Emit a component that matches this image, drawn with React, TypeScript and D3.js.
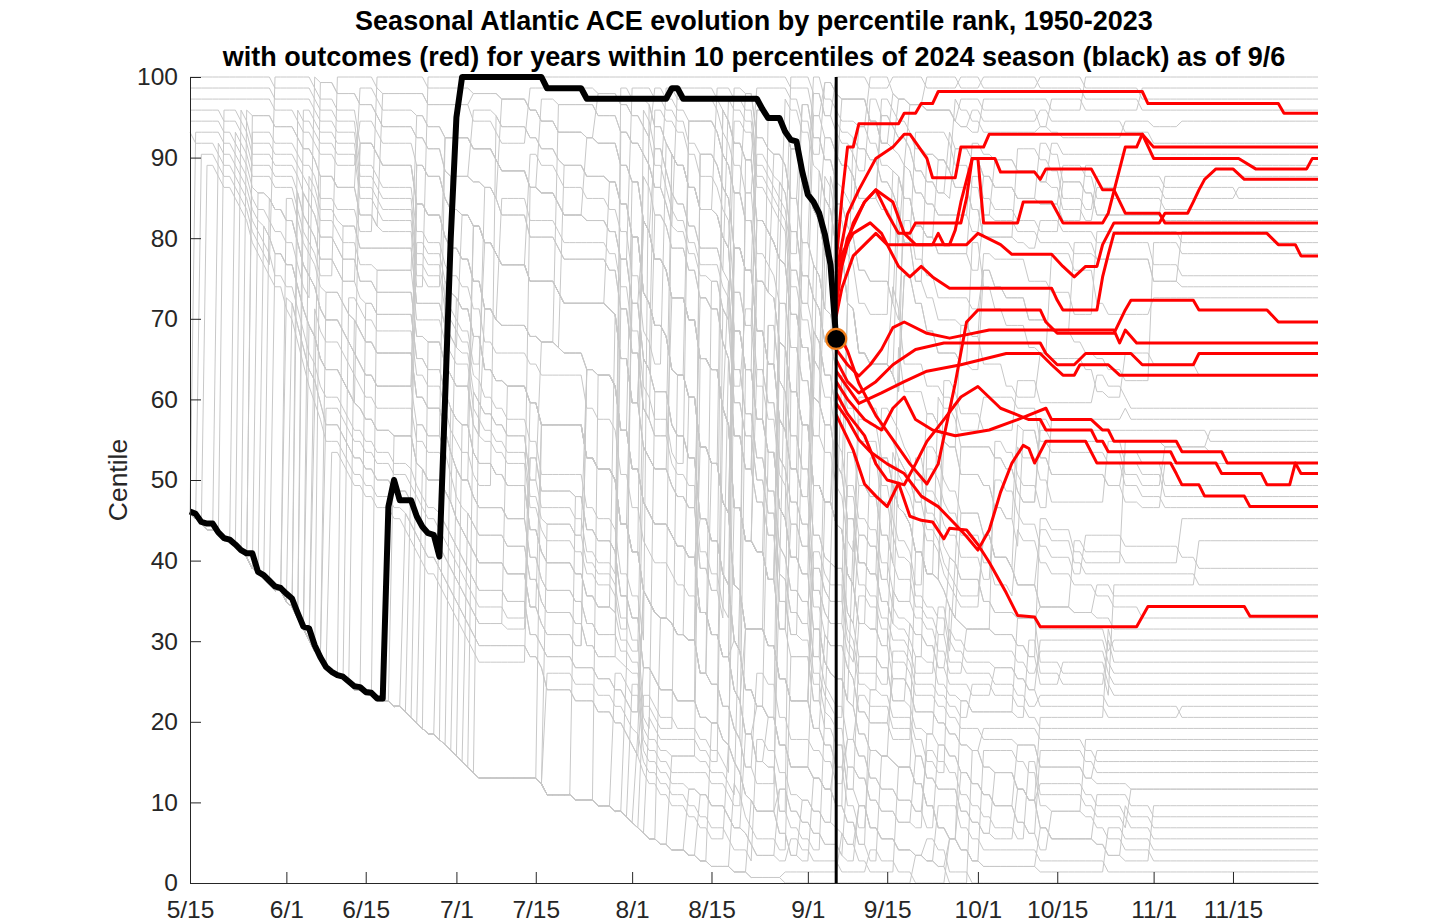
import React, { useEffect, useRef } from 'react';
import * as d3 from 'd3';

const YEAR = 2024;
const SEASON_START = '5/15';
const SEASON_END = '11/30';
const AS_OF = '9/6';
const AS_OF_CENTILE = 67.5;
const WINDOW = 10;

const X_TICKS = ['5/15', '6/1', '6/15', '7/1', '7/15', '8/1', '8/15', '9/1', '9/15', '10/1', '10/15', '11/1', '11/15'];
const Y_TICKS = [0, 10, 20, 30, 40, 50, 60, 70, 80, 90, 100];

const YEARS = d3.range(1950, 2024);

// cumulative ACE per season, flat pairs [day since 5/15, ACE, ...]; zero before the first pair
const SEASON_ACE: number[][] = [
  [45, 3, 80, 18, 95, 45, 110, 90, 122, 130, 135, 165, 150, 190, 165, 205, 175, 211],
  [0, 1.5, 30, 4, 66, 10, 98, 35, 112, 60, 126, 85, 140, 105, 160, 120, 178, 126],
  [0, 2.8, 52, 5, 90, 14, 108, 30, 120, 48, 135, 60, 150, 66, 163, 69],
  [14, 1.2, 40, 5, 85, 12, 104, 35, 118, 58, 130, 75, 146, 90, 172, 99],
  [24, 0.8, 60, 3, 88, 10, 112, 22, 128, 55, 142, 82, 152, 100, 165, 111],
  [51, 2.5, 81, 20, 93, 48, 108, 85, 115, 120, 127, 160, 138, 185, 150, 199],
  [31, 1.5, 75, 5, 95, 14, 113, 28, 127, 42, 142, 52, 175, 54],
  [10, 2, 30, 8, 70, 12, 100, 24, 116, 44, 128, 62, 142, 78, 158, 84],
  [62, 3, 90, 25, 104, 50, 116, 72, 130, 96, 144, 112, 158, 121],
  [1, 1.1, 22, 6, 55, 12, 82, 18, 112, 40, 125, 58, 140, 70, 160, 77],
  [13, 1, 47, 3, 85, 20, 106, 60, 116, 76, 135, 88],
  [72, 4, 96, 25, 108, 60, 118, 95, 128, 130, 140, 160, 154, 190, 170, 205],
  [83, 3, 100, 9, 116, 18, 130, 26, 148, 33, 166, 36],
  [36, 1, 62, 3, 92, 10, 110, 25, 122, 55, 133, 85, 146, 105, 160, 118],
  [40, 1.2, 78, 10, 94, 40, 105, 70, 117, 100, 130, 130, 146, 160, 160, 170],
  [20, 1.6, 52, 4, 90, 8, 104, 30, 114, 55, 126, 72, 144, 84],
  [3, 0.6, 23, 6, 50, 10, 88, 30, 103, 55, 113, 80, 125, 110, 140, 135, 160, 145],
  [44, 0.9, 80, 3, 104, 15, 116, 45, 125, 75, 136, 100, 150, 115, 165, 122],
  [8, 1.4, 26, 9, 50, 12, 95, 18, 118, 24, 142, 30, 160, 35],
  [77, 1.2, 90, 12, 104, 40, 116, 70, 126, 95, 140, 120, 156, 145, 175, 158],
  [21, 1.8, 48, 5, 80, 12, 106, 22, 124, 30, 150, 34],
  [25, 0.5, 60, 2, 96, 12, 112, 30, 124, 55, 133, 75, 147, 90, 165, 97],
  [11, 1.9, 33, 12, 72, 16, 98, 24, 118, 32, 140, 36],
  [47, 1.3, 82, 8, 110, 20, 124, 34, 138, 44, 152, 48],
  [17, 0.7, 56, 3, 90, 10, 110, 26, 124, 44, 137, 55, 154, 61],
  [19, 2.2, 45, 8, 80, 12, 100, 30, 115, 50, 130, 66, 146, 76],
  [63, 1.7, 86, 10, 102, 28, 114, 48, 127, 66, 140, 78, 156, 84.3],
  [90, 1, 104, 5, 118, 12, 132, 22, 150, 25],
  [0, 0.9, 40, 3, 78, 8, 102, 20, 117, 38, 132, 52, 150, 63],
  [22, 1.1, 46, 6, 82, 14, 100, 40, 111, 70, 124, 82, 140, 93],
  [48, 1.5, 76, 15, 96, 42, 112, 70, 125, 100, 140, 125, 160, 149],
  [5, 1, 30, 4, 78, 12, 104, 30, 118, 55, 132, 80, 150, 94, 172, 100],
  [99, 2, 110, 8, 122, 20, 136, 28, 152, 32],
  [38, 0.6, 95, 2, 108, 6, 118, 12, 130, 17],
  [79, 0.8, 100, 6, 114, 20, 128, 40, 146, 60, 163, 78, 178, 84.6],
  [29, 1.3, 76, 6, 96, 22, 110, 42, 124, 56, 140, 70, 156, 82, 175, 88.4],
  [12, 1.2, 40, 5, 74, 10, 96, 20, 118, 30, 140, 36.2],
  [75, 1, 98, 4, 112, 14, 128, 24, 146, 30, 165, 34.2],
  [18, 0.7, 60, 2, 94, 15, 110, 40, 122, 60, 136, 80, 150, 96, 165, 103],
  [68, 2, 90, 25, 106, 50, 116, 85, 128, 110, 142, 125, 162, 135],
  [42, 1.6, 78, 10, 96, 25, 110, 45, 122, 60, 134, 75, 152, 90, 168, 97.2],
  [88, 1, 106, 3, 120, 10, 134, 20, 150, 30, 170, 35.5],
  [0, 3.5, 90, 4, 106, 30, 114, 45, 128, 62, 145, 72, 168, 76.2],
  [92, 2, 104, 5, 116, 14, 130, 28, 146, 36, 160, 39],
  [27, 1.8, 62, 4, 96, 8, 114, 12, 134, 20, 162, 32.3],
  [21, 1, 40, 4, 65, 15, 86, 40, 100, 80, 112, 120, 124, 160, 136, 190, 152, 215, 168, 227],
  [50, 1.8, 76, 20, 96, 55, 110, 95, 120, 125, 134, 150, 154, 166],
  [78, 1.1, 98, 10, 120, 20, 140, 32, 158, 41],
  [22, 0.6, 80, 2, 104, 25, 116, 70, 126, 120, 138, 155, 152, 176, 168, 182],
  [46, 1.5, 80, 8, 98, 40, 112, 75, 124, 110, 138, 140, 154, 165, 172, 177],
  [80, 1.8, 96, 20, 110, 45, 124, 70, 136, 90, 150, 108, 166, 119],
  [15, 1, 70, 4, 100, 8, 120, 25, 134, 55, 150, 80, 165, 100, 180, 110],
  [105, 0.6, 115, 6, 125, 20, 136, 40, 148, 58, 162, 67],
  [0, 1.2, 45, 8, 78, 25, 100, 60, 114, 100, 128, 135, 142, 155, 160, 168, 185, 176],
  [39, 0.9, 80, 5, 94, 40, 106, 95, 114, 140, 124, 180, 136, 210, 150, 225.5],
  [23, 2, 42, 25, 60, 45, 80, 60, 98, 90, 112, 120, 125, 160, 140, 200, 158, 230, 175, 245],
  [85, 1.2, 97, 10, 110, 30, 122, 55, 136, 70, 150, 79],
  [6, 1.6, 50, 3, 92, 15, 105, 30, 118, 45, 134, 60, 150, 70, 168, 74],
  [24, 1.3, 60, 8, 82, 22, 100, 50, 114, 80, 126, 105, 140, 120, 170, 146.3],
  [96, 1.9, 106, 12, 118, 28, 132, 45, 150, 53],
  [20, 2.5, 52, 6, 85, 20, 102, 60, 112, 90, 122, 125, 135, 150, 150, 165],
  [81, 1.4, 94, 12, 106, 45, 118, 75, 130, 95, 144, 115, 162, 126.3],
  [2, 0.8, 15, 4, 55, 7, 88, 30, 106, 60, 116, 85, 128, 105, 144, 122, 160, 133],
  [41, 1, 70, 4, 98, 10, 116, 18, 132, 28, 150, 36.1],
  [118, 2, 128, 12, 138, 30, 150, 50, 162, 67.2],
  [17, 1.3, 50, 5, 80, 12, 102, 28, 118, 42, 134, 54, 150, 62.7],
  [19, 1.5, 50, 5, 80, 14, 100, 40, 114, 70, 126, 95, 138, 115, 152, 132, 170, 141],
  [0, 2.1, 30, 5, 60, 9, 84, 20, 100, 60, 110, 110, 120, 160, 130, 195, 140, 215, 150, 225.2],
  [28, 1.4, 54, 10, 96, 25, 110, 55, 120, 85, 132, 110, 148, 128, 160, 133.2],
  [63, 0.8, 80, 3, 98, 20, 108, 55, 118, 85, 130, 105, 142, 120, 156, 132],
  [9, 1.7, 40, 8, 62, 15, 84, 35, 100, 60, 114, 90, 126, 120, 140, 150, 158, 172, 170, 180],
  [11, 2, 34, 9, 60, 16, 82, 30, 98, 55, 108, 85, 118, 110, 132, 130, 150, 146.1],
  [33, 1.7, 70, 4, 102, 8, 116, 40, 130, 70, 146, 88, 162, 95],
  [49, 1.2, 76, 8, 96, 30, 108, 60, 118, 85, 132, 110, 148, 130, 170, 146.2],
];

// 2024 centile, [day since 5/15, centile]
const SEASON_2024: [number, number][] = [
  [0, 46.1], [1, 45.8], [2, 44.8], [3, 44.6], [4, 44.6], [5, 43.5], [6, 42.8], [7, 42.6], [8, 42.0],
  [9, 41.3], [10, 40.9], [11, 40.9], [12, 38.6], [13, 38.2], [14, 37.5], [15, 36.8], [16, 36.6],
  [17, 35.9], [18, 35.3], [19, 33.5], [20, 31.8], [21, 31.6], [22, 29.5], [23, 28.0], [24, 26.8],
  [25, 26.2], [26, 25.8], [27, 25.6], [28, 25.0], [29, 24.4], [30, 24.3], [31, 23.7], [32, 23.6],
  [33, 22.9], [34, 22.9], [35, 46.7], [36, 50.0], [37, 47.5], [38, 47.5], [39, 47.5], [40, 45.5],
  [41, 44.2], [42, 43.4], [43, 43.2], [44, 40.5], [45, 60], [46, 80], [47, 95], [48, 100], [62, 100],
  [63, 98.6], [69, 98.6], [70, 97.3], [84, 97.3], [85, 98.6], [86, 98.6], [87, 97.3], [100, 97.3],
  [101, 96.0], [102, 94.9], [104, 94.9], [105, 93.2], [106, 92.2], [107, 92.0], [108, 88.3],
  [109, 85.4], [110, 84.5], [111, 83.1], [112, 80.5], [113, 76.7], [114, 67.5],
];

// outcomes of the seasons within 10 percentiles of 2024 on 9/6
const OUTCOMES: [string, number][][] = [
  [['9/6', 77.0], ['9/7', 85], ['9/8', 91.3], ['9/9', 91.3], ['9/10', 94.2], ['9/17', 94.2], ['9/18', 95.5], ['9/20', 95.5], ['9/21', 96.7], ['9/23', 96.7], ['9/24', 98.2], ['10/30', 98.2], ['10/31', 96.7], ['11/23', 96.7], ['11/24', 95.5], ['11/30', 95.5]],
  [['9/6', 75.7], ['9/8', 83], ['9/10', 86], ['9/13', 89.9], ['9/16', 91.3], ['9/18', 92.9], ['9/19', 92.9], ['9/22', 89.9], ['9/23', 87.5], ['9/27', 87.5], ['9/28', 91.3], ['10/2', 91.3], ['10/3', 92.9], ['10/30', 92.9], ['11/1', 89.9], ['11/16', 89.9], ['11/19', 88.6], ['11/28', 88.6], ['11/29', 89.9], ['11/30', 89.9]],
  [['9/6', 74.3], ['9/8', 80], ['9/11', 84.5], ['9/13', 86], ['9/16', 84.5], ['9/18', 80.6], ['9/20', 79.2], ['9/26', 79.2], ['9/27', 81], ['9/28', 84.5], ['9/30', 89.9], ['10/1', 89.9], ['10/2', 81.9], ['10/8', 81.9], ['10/9', 84.5], ['10/14', 84.5], ['10/16', 81.9], ['10/23', 81.9], ['10/24', 83.1], ['10/27', 91.3], ['10/29', 91.3], ['10/30', 92.9], ['11/1', 91.3], ['11/30', 91.3]],
  [['9/6', 73.0], ['9/7', 78], ['9/9', 80.6], ['9/12', 81.9], ['9/14', 80.6], ['9/15', 79.2], ['9/23', 79.2], ['9/24', 80.6], ['9/25', 79.2], ['9/29', 79.2], ['10/1', 80.6], ['10/5', 79.2], ['10/7', 78.0], ['10/14', 78.0], ['10/16', 76.5], ['10/18', 75.2], ['10/20', 76.5], ['10/22', 76.5], ['10/23', 79.2], ['10/25', 81.9], ['11/2', 81.9], ['11/3', 83.1], ['11/7', 83.1], ['11/8', 84.5], ['11/9', 86], ['11/10', 87.3], ['11/12', 88.6], ['11/15', 88.6], ['11/17', 87.3], ['11/30', 87.3]],
  [['9/6', 71.6], ['9/7', 76.5], ['9/9', 81.9], ['9/11', 84.5], ['9/13', 86.0], ['9/15', 83.1], ['9/17', 80.6], ['9/19', 80.6], ['9/20', 81.9], ['9/28', 81.9], ['9/29', 85], ['9/30', 89.9], ['10/4', 89.9], ['10/5', 88.2], ['10/11', 88.2], ['10/12', 87.3], ['10/13', 88.6], ['10/21', 88.6], ['10/22', 87.3], ['10/23', 86.0], ['10/25', 86.0], ['10/27', 83.1], ['11/2', 83.1], ['11/3', 81.9], ['11/30', 81.9]],
  [['9/6', 70.3], ['9/7', 73.8], ['9/9', 77.8], ['9/11', 79.2], ['9/13', 80.6], ['9/15', 79.2], ['9/17', 76.5], ['9/19', 75.2], ['9/21', 76.5], ['9/23', 75.2], ['9/26', 73.8], ['10/14', 73.8], ['10/15', 72.3], ['10/16', 71.1], ['10/22', 71.1], ['10/23', 75.2], ['10/24', 78], ['10/25', 80.6], ['11/21', 80.6], ['11/23', 79.2], ['11/26', 79.2], ['11/27', 77.8], ['11/30', 77.8]],
  [['9/6', 68.9], ['9/8', 66], ['9/10', 62], ['9/13', 58], ['9/16', 55], ['9/19', 52], ['9/22', 49.5], ['9/24', 52], ['9/27', 62], ['9/29', 69.6], ['10/1', 71.1], ['10/12', 71.1], ['10/13', 69.6], ['10/15', 68.2], ['10/25', 68.2], ['10/27', 71.1], ['10/28', 72.3], ['11/8', 72.3], ['11/9', 71.1], ['11/21', 71.1], ['11/23', 69.6], ['11/30', 69.6]],
  [['9/6', 66.2], ['9/8', 64.3], ['9/10', 62.9], ['9/12', 64.3], ['9/14', 66.2], ['9/16', 68.9], ['9/18', 69.6], ['9/22', 68.2], ['9/26', 67.6], ['10/3', 68.6], ['10/25', 68.6], ['10/26', 67.0], ['10/27', 68.6], ['10/29', 67.0], ['11/30', 67.0]],
  [['9/6', 64.9], ['9/8', 62.2], ['9/10', 60.8], ['9/13', 62.2], ['9/16', 64.3], ['9/20', 66.2], ['9/25', 67.0], ['10/12', 67.0], ['10/13', 65.7], ['10/15', 64.3], ['10/18', 64.3], ['10/20', 65.7], ['10/28', 65.7], ['10/30', 64.3], ['11/8', 64.3], ['11/9', 65.7], ['11/30', 65.7]],
  [['9/6', 63.5], ['9/8', 61.5], ['9/10', 59.5], ['9/14', 60.8], ['9/18', 62.2], ['9/22', 63.5], ['9/28', 64.3], ['10/6', 65.7], ['10/12', 65.7], ['10/14', 64.3], ['10/16', 63.0], ['10/18', 63.0], ['10/19', 64.3], ['10/24', 64.3], ['10/26', 63.0], ['11/30', 63.0]],
  [['9/6', 62.2], ['9/8', 60], ['9/11', 57.5], ['9/14', 56.2], ['9/16', 58.9], ['9/18', 60.3], ['9/20', 57.5], ['9/23', 56.2], ['9/27', 55.5], ['10/3', 56.2], ['10/8', 57.5], ['10/13', 58.9], ['10/14', 57.5], ['10/21', 57.5], ['10/23', 56.2], ['10/24', 56.2], ['10/25', 54.8], ['11/5', 54.8], ['11/6', 53.5], ['11/13', 53.5], ['11/14', 52.1], ['11/26', 52.1], ['11/27', 50.8], ['11/30', 50.8]],
  [['9/6', 60.8], ['9/8', 58.2], ['9/11', 55.5], ['9/13', 52], ['9/15', 50], ['9/18', 49.4], ['9/20', 52], ['9/22', 54.8], ['9/25', 57.5], ['9/28', 60.3], ['10/1', 61.6], ['10/5', 58.9], ['10/10', 57.5], ['10/12', 57.5], ['10/13', 56.2], ['10/21', 56.2], ['10/22', 54.8], ['10/23', 54.8], ['10/24', 53.5], ['11/4', 53.5], ['11/5', 52.1], ['11/12', 52.1], ['11/13', 50.8], ['11/20', 50.8], ['11/21', 49.4], ['11/25', 49.4], ['11/26', 52.1], ['11/30', 52.1]],
  [['9/6', 59.5], ['9/8', 57.5], ['9/10', 55], ['9/12', 53.5], ['9/15', 52], ['9/18', 50.8], ['9/21', 48], ['9/24', 46.7], ['9/27', 44.5], ['9/29', 43], ['10/1', 41.3], ['10/3', 43.8], ['10/5', 48.5], ['10/7', 52.1], ['10/9', 54.3], ['10/10', 53.9], ['10/11', 52.1], ['10/13', 54.8], ['10/20', 54.8], ['10/22', 52.1], ['11/4', 52.1], ['11/5', 50.8], ['11/6', 49.4], ['11/9', 49.4], ['11/10', 48.0], ['11/17', 48.0], ['11/18', 46.7], ['11/30', 46.7]],
  [['9/6', 58.1], ['9/9', 53.7], ['9/11', 49.5], ['9/13', 48], ['9/15', 46.7], ['9/17', 49.6], ['9/19', 45.5], ['9/21', 45], ['9/23', 44.8], ['9/25', 42.7], ['9/26', 44], ['9/29', 43.8], ['10/1', 42], ['10/3', 39.8], ['10/6', 36], ['10/8', 33.2], ['10/11', 33.0], ['10/12', 31.8], ['10/29', 31.8], ['10/31', 34.3], ['11/17', 34.3], ['11/18', 33.1], ['11/30', 33.1]],
];

const TITLE = [
  'Seasonal Atlantic ACE evolution by percentile rank, 1950-2023',
  'with outcomes (red) for years within 10 percentiles of 2024 season (black) as of 9/6',
];

const FONT = '"Liberation Sans", Arial, Helvetica, sans-serif';

const parseMD = (s: string) => {
  const [m, d] = s.split('/').map(Number);
  return new Date(YEAR, m - 1, d);
};

const App: React.FC = () => {
  const ref = useRef<SVGSVGElement>(null);
  const width = 1456;
  const height = 924;
  const margin = { top: 77, right: 138, bottom: 41, left: 190 };

  useEffect(() => {
    if (!ref.current) return;
    const svg = d3.select(ref.current);
    svg.selectAll('*').remove();

    const start = parseMD(SEASON_START);
    const end = parseMD(SEASON_END);
    const nDays = d3.timeDay.count(start, end) + 1;
    const dayDate = (i: number) => d3.timeDay.offset(start, i);
    const asOfDay = d3.timeDay.count(start, parseMD(AS_OF));

    const x = d3.scaleTime().domain([start, end]).range([margin.left, width - margin.right]);
    const y = d3.scaleLinear().domain([0, 100]).range([height - margin.bottom, margin.top]);

    // percentile rank of every season, day by day (ties share the mean rank)
    const n = SEASON_ACE.length;
    const aceOn = (ev: number[], d: number) => {
      let v = 0;
      for (let i = 0; i < ev.length; i += 2) if (ev[i] <= d) v = ev[i + 1];
      return v;
    };
    const centile: number[][] = SEASON_ACE.map(() => []);
    for (let d = 0; d < nDays; d++) {
      const vals = SEASON_ACE.map((ev) => aceOn(ev, d));
      const order = d3.range(n).sort((a, b) => vals[a] - vals[b]);
      let i = 0;
      while (i < n) {
        let j = i;
        while (j + 1 < n && vals[order[j + 1]] === vals[order[i]]) j++;
        const r = (i + j) / 2;
        for (let k = i; k <= j; k++) centile[order[k]][d] = (r / (n - 1)) * 100;
        i = j + 1;
      }
    }

    const line = d3
      .line<[Date, number]>()
      .x((d) => x(d[0]))
      .y((d) => y(d[1]));

    const g = svg.append('g');

    // grey seasons
    g.append('g')
      .selectAll('path')
      .data(YEARS.map((yr, i) => {
        const near = Math.abs(centile[i][asOfDay] - AS_OF_CENTILE) <= WINDOW;
        const last = near ? asOfDay : nDays - 1;
        return d3.range(0, last + 1).map((d) => [dayDate(d), centile[i][d]] as [Date, number]);
      }))
      .enter()
      .append('path')
      .attr('fill', 'none')
      .attr('stroke', '#c8c8c8')
      .attr('stroke-width', 1)
      .attr('d', line);

    // outcomes
    g.append('g')
      .selectAll('path')
      .data(OUTCOMES.map((s) => s.map(([md, v]) => [parseMD(md), v] as [Date, number])))
      .enter()
      .append('path')
      .attr('fill', 'none')
      .attr('stroke', '#ff0000')
      .attr('stroke-width', 3)
      .attr('stroke-linejoin', 'round')
      .attr('d', line);

    // 2024
    g.append('path')
      .datum(SEASON_2024.map(([d, v]) => [dayDate(d), v] as [Date, number]))
      .attr('fill', 'none')
      .attr('stroke', '#000')
      .attr('stroke-width', 6)
      .attr('stroke-linejoin', 'round')
      .attr('d', line);

    g.append('line')
      .attr('x1', x(parseMD(AS_OF)))
      .attr('x2', x(parseMD(AS_OF)))
      .attr('y1', y(0))
      .attr('y2', y(100))
      .attr('stroke', '#000')
      .attr('stroke-width', 3);

    g.append('circle')
      .attr('cx', x(parseMD(AS_OF)))
      .attr('cy', y(AS_OF_CENTILE))
      .attr('r', 10)
      .attr('fill', '#000')
      .attr('stroke', '#ef7d1a')
      .attr('stroke-width', 2.2);

    // axes
    const xAxis = svg
      .append('g')
      .attr('transform', `translate(0,${height - margin.bottom})`)
      .call(
        d3
          .axisBottom(x)
          .tickValues(X_TICKS.map(parseMD))
          .tickFormat((d) => d3.timeFormat('%-m/%-d')(d as Date))
          .tickSizeInner(-11)
          .tickSizeOuter(0)
          .tickPadding(18)
      );
    const yAxis = svg
      .append('g')
      .attr('transform', `translate(${margin.left},0)`)
      .call(d3.axisLeft(y).tickValues(Y_TICKS).tickSizeInner(-11).tickSizeOuter(0).tickPadding(12));

    [xAxis, yAxis].forEach((ax) => {
      ax.select('.domain').attr('stroke', '#262626');
      ax.selectAll('.tick line').attr('stroke', '#262626');
      ax.selectAll('.tick text')
        .attr('fill', '#262626')
        .style('font-family', FONT)
        .style('font-size', '24.5px');
    });

    svg
      .append('text')
      .attr('transform', `translate(127,${(margin.top + height - margin.bottom) / 2}) rotate(-90)`)
      .attr('text-anchor', 'middle')
      .style('font-family', FONT)
      .style('font-size', '26.5px')
      .attr('fill', '#262626')
      .text('Centile');

    svg
      .append('g')
      .selectAll('text')
      .data(TITLE)
      .enter()
      .append('text')
      .attr('x', (margin.left + width - margin.right) / 2)
      .attr('y', (_, i) => 30 + i * 36)
      .attr('text-anchor', 'middle')
      .style('font-family', FONT)
      .style('font-size', '27px')
      .style('font-weight', 'bold')
      .attr('fill', '#000')
      .text((d) => d);
  }, []);

  return (
    <svg
      ref={ref}
      width={width}
      height={height}
      style={{ position: 'absolute', left: 0, top: 0, background: '#fff' }}
    />
  );
};

export default App;
